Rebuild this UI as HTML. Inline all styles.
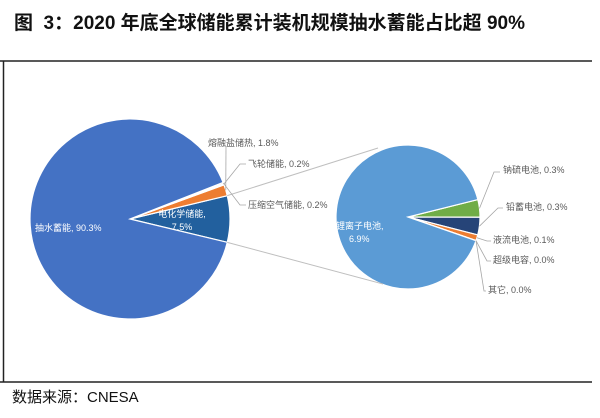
<!DOCTYPE html>
<html><head><meta charset="utf-8"><style>
body{margin:0;width:600px;height:418px;background:#fff;overflow:hidden;font-family:"Liberation Sans","Noto Sans CJK SC",sans-serif}
#title{position:absolute;left:14px;top:8px;font-size:19px;font-weight:bold;color:#111;white-space:nowrap}
#src{position:absolute;left:12px;top:386px;font-size:15px;color:#111}
svg{position:absolute;left:0;top:0}
</style></head><body>
<div id="title">图&nbsp;&nbsp;3：2020 年底全球储能累计装机规模抽水蓄能占比超 90%</div>
<svg id="c" width="600" height="418">
<line x1="0" y1="61" x2="592" y2="61" stroke="#222" stroke-width="1.5"/>
<line x1="0" y1="382" x2="592" y2="382" stroke="#222" stroke-width="1.5"/>
<line x1="3.5" y1="61" x2="3.5" y2="382" stroke="#222" stroke-width="1.5"/>
</svg>
<div id="src">数据来源：CNESA</div>
<script>
const mainCats=["电化学储能","熔融盐储热","飞轮储能","压缩空气储能","抽水蓄能"];
const mainVals=[7.5,1.8,0.2,0.2,90.3];
const mainColors=["#22609e","#ED7D31","#4472C4","#4472C4","#4472C4"];
const subCats=["钠硫电池","铅蓄电池","液流电池","超级电容","其它","锂离子电池"];
const subVals=[0.3,0.3,0.1,0.0,0.0,6.9];
const subColors=["#70AD47","#264478","#ED7D31","#A5A5A5","#FFC000","#5B9BD5"];
const svg=document.getElementById('c');
const NS="http://www.w3.org/2000/svg";
function mk(t,a){const e=document.createElementNS(NS,t);for(const k in a)e.setAttribute(k,a[k]);svg.appendChild(e);return e;}
function pt(cx,cy,r,deg){const a=deg*Math.PI/180;return [cx+r*Math.cos(a),cy+r*Math.sin(a)];}
function arc(cx,cy,r,a0,a1){if(a1<a0){const t=a0;a0=a1;a1=t;}const p0=pt(cx,cy,r,a0),p1=pt(cx,cy,r,a1);const large=(a1-a0)>180?1:0;
 return `M${cx},${cy}L${p0[0]},${p0[1]}A${r},${r} 0 ${large} 1 ${p1[0]},${p1[1]}Z`;}
// main pie (counter-clockwise from electrochem)
const M={cx:130,cy:219,r:100};
const mTot=mainVals.reduce((a,b)=>a+b,0);
let a=mainVals[0]/mTot*180; const mainAngles=[];
mainVals.forEach((v,i)=>{const s=v/mTot*360;const p=mk('path',{d:arc(M.cx,M.cy,M.r,a-s,a),fill:mainColors[i],stroke:'#fff','stroke-width':1.2});
 
 
 mainAngles.push([a-s,a]);a-=s;});
// sub pie
const S={cx:408,cy:217,r:72};
const sTot=subVals.reduce((x,y)=>x+y,0);
let b=-14; const subAngles=[];
subVals.forEach((v,i)=>{const s=v/sTot*360;const p=mk('path',{d:arc(S.cx,S.cy,S.r,b,b+s),fill:subColors[i],stroke:'#fff','stroke-width':1.2});
 
 
 subAngles.push([b,b+s]);b+=s;});
// connector lines
const e0=pt(M.cx,M.cy,M.r,mainAngles[0][0]),e1=pt(M.cx,M.cy,M.r,mainAngles[0][1]);
let l=mk('line',{x1:e0[0],y1:e0[1],x2:S.cx-30,y2:S.cy-S.r+3,stroke:'#bfbfbf','stroke-width':1});


l=mk('line',{x1:e1[0],y1:e1[1],x2:S.cx-25,y2:S.cy+S.r-5,stroke:'#bfbfbf','stroke-width':1});


function txt(x,y,s,fill,anchor,name){const t=mk('text',{x:x,y:y,'font-size':9,fill:fill,'text-anchor':anchor||'start'});t.textContent=s;
 
 return t;}
function leader(pts,name){const p=mk('polyline',{points:pts.map(q=>q.join(',')).join(' '),fill:'none',stroke:'#a6a6a6','stroke-width':0.8});
 
 }
// main labels
txt(35,231,mainCats[4]+", "+mainVals[4].toFixed(1)+"%","#fff","start","label-pumped-hydro");
txt(182,217,mainCats[0]+",","#fff","middle","label-electrochem");
txt(182,230,mainVals[0].toFixed(1)+"%","#fff","middle","label-electrochem-value");
const mid=i=>(mainAngles[i][0]+mainAngles[i][1])/2;
let q=pt(M.cx,M.cy,M.r,mid(1));leader([q,[226,147]],"leader-molten-salt");
txt(208,146,mainCats[1]+", "+mainVals[1].toFixed(1)+"%","#595959","start","label-molten-salt");
q=pt(M.cx,M.cy,M.r,mid(2));leader([q,[240,164],[246,164]],"leader-flywheel");
txt(248,167,mainCats[2]+", "+mainVals[2].toFixed(1)+"%","#595959","start","label-flywheel");
q=pt(M.cx,M.cy,M.r,mid(3));leader([q,[240,205],[246,205]],"leader-compressed-air");
txt(248,208,mainCats[3]+", "+mainVals[3].toFixed(1)+"%","#595959","start","label-compressed-air");
// sub labels
txt(336,229,subCats[5]+",","#fff","start","label-li-ion");
txt(349,242,subVals[5].toFixed(1)+"%","#fff","start","label-li-ion-value");
const sm=i=>(subAngles[i][0]+subAngles[i][1])/2;
const subLab=[[503,173,[[494,172],[500,172]]],[506,210,[[498,208],[503,208]]],[493,243,[[487,241],[491,241]]],[493,263,[[487,261],[491,261]]],[488,293,[[484,291],[486,291]]]];
subLab.forEach((d,i)=>{const p=pt(S.cx,S.cy,S.r,sm(i));leader([p].concat(d[2]),"leader-"+i);
 txt(d[0],d[1],subCats[i]+", "+subVals[i].toFixed(1)+"%","#595959","start","label-sub-"+i);});
</script>
</body></html>
